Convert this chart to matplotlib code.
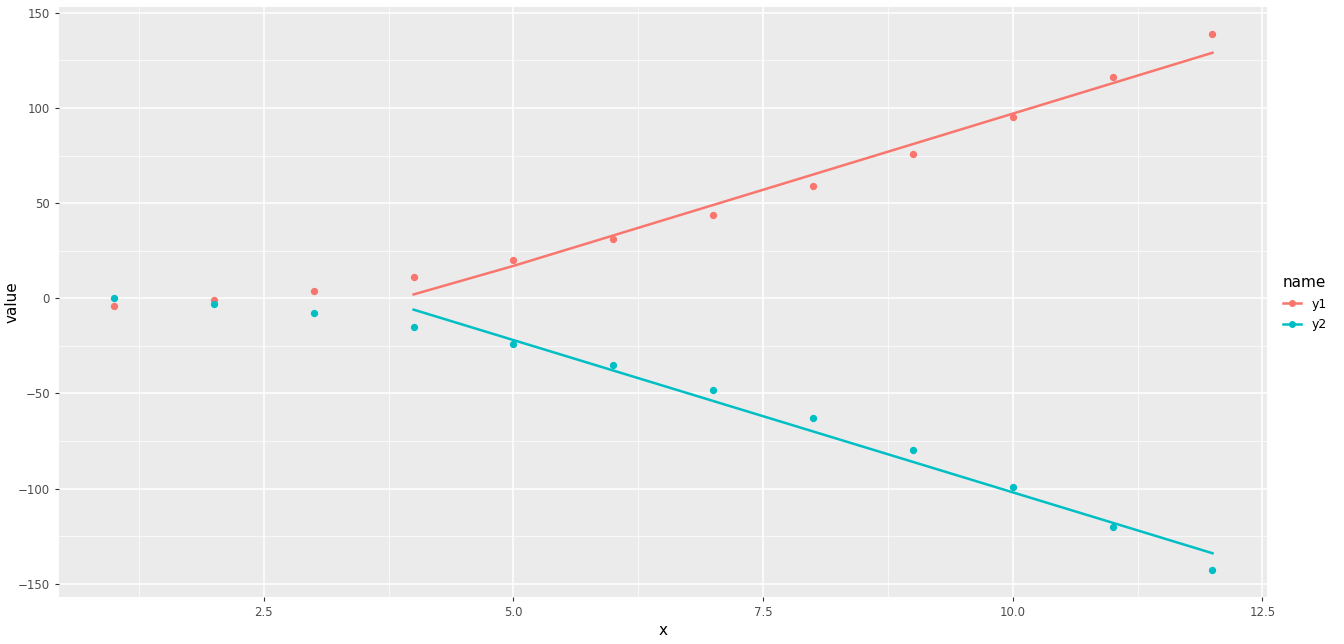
import matplotlib.pyplot as plt
import numpy as np
from matplotlib.lines import Line2D

x = [1, 2, 3, 4, 5, 6, 7, 8, 9, 10, 11, 12]
y1 = [-4, -1, 4, 11, 20, 31, 44, 59, 76, 95, 116, 139]
y2 = [0, -3, -8, -15, -24, -35, -48, -63, -80, -99, -120, -143]

line_x = [4, 5, 6, 7, 8, 9, 10, 11, 12]
line_y1 = [2, 17, 33, 49, 65, 81, 97, 113, 129]
line_y2 = [-6, -22, -38, -54, -70, -86, -102, -118, -134]

c1, c2 = "#F8766D", "#00BFC4"

fig = plt.figure(figsize=(13.44, 6.44), dpi=100)
ax = fig.add_axes([0.044, 0.073, 0.899, 0.916])
ax.set_facecolor("#EBEBEB")
for s in ax.spines.values():
    s.set_visible(False)

ax.set_xlim(0.45, 12.55)
ax.set_ylim(-157, 153)
ax.set_xticks([2.5, 5.0, 7.5, 10.0, 12.5])
ax.set_xticks(np.arange(1.25, 12.6, 2.5), minor=True)
ax.set_yticks([-150, -100, -50, 0, 50, 100, 150])
ax.set_yticks([-125, -75, -25, 25, 75, 125], minor=True)
ax.grid(which="major", color="white", lw=1.1)
ax.grid(which="minor", color="white", lw=0.5)
ax.set_axisbelow(True)
ax.tick_params(which="both", length=3, color="#333333", labelcolor="#4D4D4D", labelsize=8.5)
ax.tick_params(which="minor", length=0)

ax.scatter(x, y1, color=c1, s=18, zorder=3)
ax.scatter(x, y2, color=c2, s=18, zorder=3)
ax.plot(line_x, line_y1, color=c1, lw=1.8, zorder=2)
ax.plot(line_x, line_y2, color=c2, lw=1.8, zorder=2)

ax.set_xlabel("x", fontsize=11, labelpad=3)
ax.set_ylabel("value", fontsize=11)
ax.yaxis.set_label_coords(-0.033, 0.5)

handles = [Line2D([], [], color=c1, marker="o", markersize=4, lw=1.8),
           Line2D([], [], color=c2, marker="o", markersize=4, lw=1.8)]
leg = fig.legend(handles, ["y1", "y2"], title="name", loc="upper left",
                 bbox_to_anchor=(0.946, 0.59), frameon=False, fontsize=9,
                 title_fontsize=11, handlelength=1.5, labelspacing=0.6)
leg._legend_box.align = "left"

fig.savefig("out.png", dpi=100)
